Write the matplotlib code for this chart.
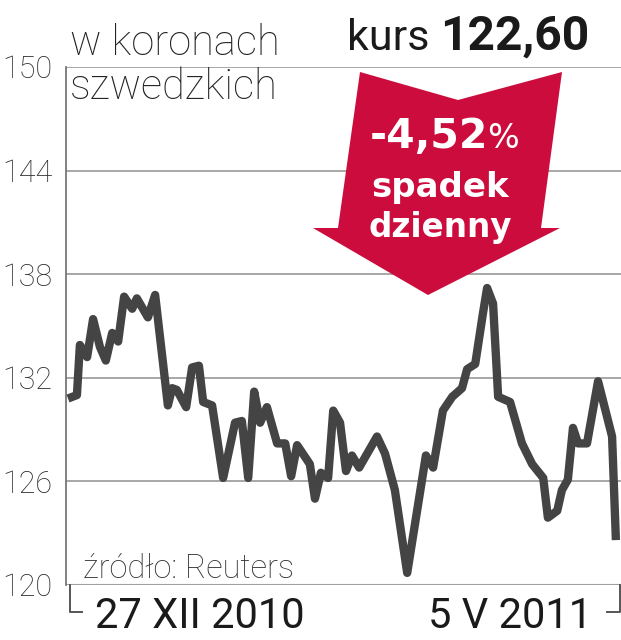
import matplotlib
matplotlib.use("Agg")
import matplotlib.pyplot as plt
from matplotlib.patches import Polygon
from matplotlib.lines import Line2D

# dni od 27 XII 2010 i kurs w SEK
dni = [0.0, 2.1, 2.8, 4.5, 5.9, 7.5, 8.9, 10.4, 11.8, 13.2, 15.1, 16.2, 18.8, 20.5,
       23.5, 24.5, 25.6, 27.8, 29.2, 30.8, 31.8, 33.9, 36.5, 39.3, 40.9, 42.4, 43.8,
       45.2, 46.8, 49.2, 51.1, 52.5, 53.9, 56.9, 58.1, 59.5, 61.2, 62.4, 64.0, 65.4,
       66.8, 68.5, 72.7, 74.6, 76.9, 79.8, 84.2, 85.9, 88.2, 90.4, 92.7, 93.9, 95.8,
       97.6, 98.6, 100.0, 101.2, 104.0, 106.8, 109.2, 111.8, 112.9, 115.1, 116.2,
       117.6, 118.8, 120.0, 122.1, 124.7, 128.0, 128.9]
kurs = [130.8, 131.0, 133.9, 133.2, 135.4, 133.8, 133.0, 134.6, 134.1, 136.7, 136.0,
        136.6, 135.5, 136.8, 130.4, 131.4, 131.3, 130.3, 132.6, 132.7, 130.6, 130.4,
        126.2, 129.4, 129.5, 126.2, 131.2, 129.4, 130.3, 128.2, 128.2, 126.3, 128.1,
        127.0, 125.0, 126.5, 126.2, 130.1, 129.4, 126.6, 127.5, 126.8, 128.6, 127.6,
        125.5, 120.7, 127.5, 126.8, 130.1, 130.9, 131.4, 132.5, 132.8, 135.7, 137.2,
        136.3, 130.9, 130.6, 128.2, 127.0, 126.2, 123.9, 124.3, 125.5, 126.1, 129.1,
        128.2, 128.2, 131.8, 128.6, 122.6]
y_ticks = [120, 126, 132, 138, 144, 150]
data_od = "27 XII 2010"
data_do = "5 V 2011"

W, H = 621, 640
RED = "#cc0c3c"
LINE = "#444444"
GRID = "#a0a0a0"
ROB = ["Roboto", "DejaVu Sans"]


def fx(px):
    return px / W


def fy(py):
    return 1 - py / H


fig = plt.figure(figsize=(W / 100, H / 100), dpi=100)
ax = fig.add_axes([fx(66), fy(585), 1 - fx(66), fy(67) - fy(585)])

ax.plot(dni, kurs, color=LINE, linewidth=6, solid_joinstyle="round",
        solid_capstyle="butt", zorder=3)
ax.set_ylim(120, 150)
ax.set_xlim(-0.47, 130.1)
ax.set_yticks(y_ticks)
ax.set_yticklabels([str(t) for t in y_ticks], family=ROB,
                   fontweight="light", fontsize=22, color="#2a2a2a")
ax.tick_params(axis="y", length=0, pad=10)
ax.set_xticks([])
ax.grid(axis="y", color=GRID, linewidth=1.3)
ax.set_axisbelow(True)
for s in ["top", "right", "bottom"]:
    ax.spines[s].set_visible(False)
ax.spines["left"].set_color("#777777")
ax.spines["left"].set_linewidth(1.3)
ax.axhline(120, color=GRID, linewidth=1.5, zorder=1)

# nawiasy osi czasu
for xs, ys in [([70, 70, 82], [585, 612, 612]), ([620, 620, 607], [585, 612, 612])]:
    fig.add_artist(Line2D([fx(x) for x in xs], [fy(y) for y in ys],
                          color="#555555", linewidth=1.4))

fig.text(fx(70), fy(55), "w koronach", family=ROB, fontweight="light", fontsize=30,
         color="#222222", va="baseline")
fig.text(fx(70), fy(99), "szwedzkich", family=ROB, fontweight="light", fontsize=30,
         color="#222222", va="baseline")
fig.text(fx(430), fy(50), "kurs", family=ROB, fontsize=31, color="#1a1a1a",
         va="baseline", ha="right")
fig.text(fx(589), fy(50), "122,60", family=ROB, fontsize=34.5,
         fontweight="bold", color="#1a1a1a", va="baseline", ha="right")

fig.text(fx(83), fy(578), "źródło: Reuters", family=ROB,
         fontweight="light", fontsize=23.5, color="#333333", va="baseline")
fig.text(fx(95), fy(628), data_od, family=ROB, fontweight="normal",
         fontsize=30, color="#1a1a1a", va="baseline")
fig.text(fx(428), fy(628), data_do, family=ROB, fontweight="normal",
         fontsize=30, color="#1a1a1a", va="baseline")

# czerwona strzałka
arrow_px = [(360, 72), (458, 100), (562, 72), (541, 228), (560, 228), (428, 295),
            (313, 228), (338, 228)]
fig.add_artist(Polygon([(fx(x), fy(y)) for x, y in arrow_px], closed=True,
                       facecolor=RED, edgecolor="none", zorder=5))
fig.text(fx(370), fy(148), "-4,52", family="DejaVu Sans", fontweight="bold",
         fontsize=29.5, color="white", va="baseline", zorder=6)
fig.text(fx(487), fy(148), "%", family="DejaVu Sans", fontsize=24,
         color="white", va="baseline", zorder=6)
fig.text(fx(371), fy(197), "spadek", family="DejaVu Sans", fontweight="bold",
         fontsize=24.5, color="white", va="baseline", zorder=6)
fig.text(fx(369), fy(237), "dzienny", family="DejaVu Sans", fontweight="bold",
         fontsize=23.5, color="white", va="baseline", zorder=6)

fig.savefig("out.png", dpi=100)
